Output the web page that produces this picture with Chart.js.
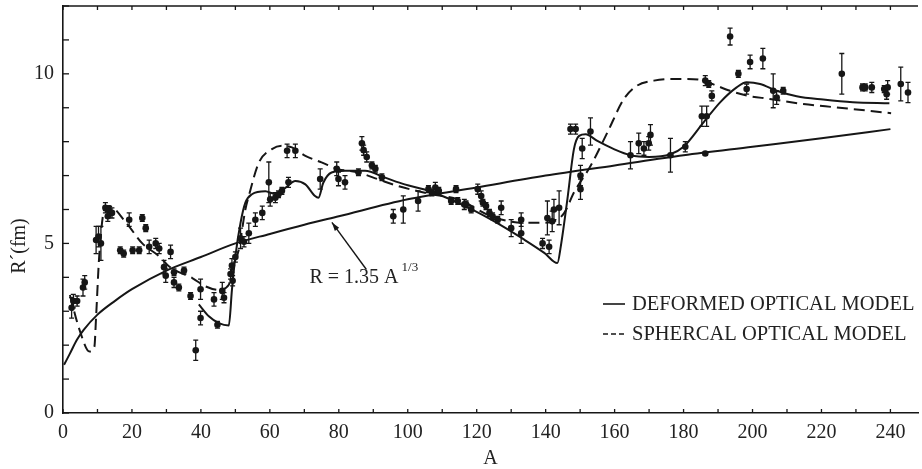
<!DOCTYPE html>
<html>
<head>
<meta charset="utf-8">
<script src="https://cdn.jsdelivr.net/npm/chart.js@4.4.1/dist/chart.umd.min.js"></script>
<style>
  html, body { margin: 0; padding: 0; background: #fff; }
</style>
</head>
<body>
<canvas id="myChart" width="922" height="469"></canvas>
<script>
// measured points (A, R', half error bar)
const pointA = [2.5, 3.0, 4.1, 5.8, 6.3, 9.6, 10.3, 11.0, 12.3, 13.2, 14.2, 13.0, 16.6, 17.6, 19.2, 20.2, 22.1, 23.0, 24.0, 25.0,
  26.9, 27.9, 29.3, 29.8, 31.2, 32.2, 32.2, 33.6, 35.1, 37.0, 39.9, 39.9, 38.5, 43.8, 44.8, 46.2, 46.7, 48.6, 49.0, 49.2,
  50.0, 51.5, 52.5, 53.9, 55.8, 57.8, 59.7, 60.1, 61.6, 62.5, 63.5, 65.4, 65.0, 67.4, 74.6, 79.4, 79.9, 81.8, 85.7, 86.7,
  87.2, 88.1, 89.6, 90.6, 92.5, 95.8, 98.7, 103.0, 106.0, 107.0, 108.0, 109.0, 112.6, 114.0, 114.5, 116.9, 116.4, 118.4, 120.3, 121.3,
  121.8, 122.7, 123.7, 124.6, 126.1, 127.1, 130.0, 132.9, 132.9, 139.1, 140.5, 141.0, 141.9, 142.4, 143.9, 147.2, 148.7, 153.0, 150.6, 150.1,
  150.1, 164.6, 167.0, 168.5, 170.4, 169.9, 176.2, 180.5, 186.3, 185.3, 186.7, 186.3, 187.3, 188.2, 193.5, 195.9, 198.3, 199.3, 203.0, 206.0,
  207.0, 208.9, 225.9, 231.9, 232.7, 234.6, 238.2, 239.2, 238.9, 243.0, 245.1];
const pointR = [3.1, 3.3, 3.3, 3.7, 3.85, 5.1, 5.2, 5.0, 6.05, 6.0, 5.9, 5.8, 4.8, 4.7, 5.7, 4.8, 4.8, 5.75, 5.45, 4.9,
  5.0, 4.85, 4.3, 4.05, 4.75, 4.15, 3.85, 3.7, 4.2, 3.45, 3.65, 2.8, 1.85, 3.35, 2.6, 3.6, 3.4, 4.1, 4.35, 3.9,
  4.6, 5.15, 5.05, 5.3, 5.7, 5.9, 6.8, 6.3, 6.35, 6.45, 6.55, 6.8, 7.73, 7.73, 6.9, 7.2, 6.9, 6.8, 7.1, 7.95,
  7.75, 7.55, 7.3, 7.2, 6.95, 5.8, 6.0, 6.25, 6.6, 6.5, 6.65, 6.55, 6.25, 6.6, 6.25, 6.15, 6.15, 6.0, 6.6, 6.4,
  6.2, 6.1, 5.9, 5.8, 5.7, 6.05, 5.45, 5.7, 5.3, 5.0, 5.75, 4.9, 5.65, 6.0, 6.05, 8.37, 8.37, 8.3, 7.8, 7.0,
  6.6, 7.6, 7.95, 7.8, 8.2, 7.95, 7.6, 7.85, 7.65, 8.75, 8.75, 9.8, 9.7, 9.35, 11.1, 10.0, 9.55, 10.35, 10.45, 9.5,
  9.3, 9.5, 10.0, 9.6, 9.6, 9.6, 9.55, 9.6, 9.4, 9.7, 9.45];
const pointErr = [0.3, 0.2, 0.15, 0.25, 0.2, 0.4, 0.3, 0.5, 0.15, 0.1, 0.15, 0.15, 0.1, 0.1, 0.2, 0.1, 0.1, 0.1, 0.1, 0.2,
  0.15, 0.15, 0.2, 0.2, 0.2, 0.1, 0.15, 0.1, 0.1, 0.1, 0.3, 0.2, 0.3, 0.2, 0.1, 0.25, 0.15, 0.15, 0.2, 0.15,
  0.15, 0.3, 0.15, 0.3, 0.2, 0.2, 0.6, 0.2, 0.15, 0.1, 0.1, 0.15, 0.2, 0.2, 0.3, 0.2, 0.2, 0.2, 0.1, 0.2,
  0.15, 0.15, 0.1, 0.1, 0.1, 0.2, 0.4, 0.3, 0.1, 0.1, 0.15, 0.1, 0.1, 0.1, 0.1, 0.1, 0.15, 0.1, 0.15, 0.15,
  0.1, 0.1, 0.1, 0.1, 0.1, 0.2, 0.25, 0.2, 0.3, 0.15, 0.5, 0.2, 0.3, 0.3, 0.5, 0.15, 0.15, 0.4, 0.3, 0.3,
  0.3, 0.4, 0.3, 0.2, 0.3, 0.2, 0.5, 0.15, 0.05, 0.3, 0.3, 0.15, 0.1, 0.15, 0.25, 0.1, 0.15, 0.2, 0.3, 0.5,
  0.2, 0.1, 0.6, 0.1, 0.1, 0.15, 0.1, 0.2, 0.15, 0.5, 0.3];

// deformed optical model (solid)
const deformA = [39.4, 42.3, 45.2, 48.1, 49.0, 50.0, 51.5, 52.9, 54.8, 58.7, 61.6, 64.5, 67.4, 70.3, 73.1, 74.1, 75.5, 77.9, 81.8, 87.6,
  93.4, 99.1, 104.9, 108.8, 114.5, 124.2, 133.8, 139.6, 143.4, 144.4, 146.3, 148.2, 149.7, 151.6, 155, 159.8, 164.6, 170, 176, 180,
  185.8, 190.6, 195.4, 198.3, 202.2, 207, 212.8, 220.5, 229.1, 239.7];
const deformR = [3.2, 2.85, 2.65, 2.58, 3.63, 4.62, 5.61, 6.2, 6.45, 6.54, 6.45, 6.64, 6.84, 6.74, 6.4, 6.35, 6.79, 7.09, 7.14, 7.14,
  6.94, 6.74, 6.59, 6.45, 6.2, 5.7, 5.11, 4.72, 4.42, 4.92, 6.3, 7.78, 8.17, 8.22, 8.02, 7.78, 7.6, 7.55, 7.62, 7.85,
  8.57, 9.16, 9.6, 9.75, 9.7, 9.5, 9.34, 9.24, 9.16, 9.13];

// spherical optical model (dashed)
const spherA = [2, 4.8, 7.7, 9.1, 9.6, 10.5, 12, 13.4, 18.3, 23, 27.9, 30.8, 37.5, 41.4, 45.2, 48.1, 49, 51, 52.9, 53.9,
  56.8, 60.6, 63.5, 66.4, 70.3, 75, 79.9, 85.7, 91.4, 97.2, 103, 106.8, 114.5, 124.2, 129, 133.8, 138.6, 142.5, 145.4, 148.2,
  153, 157.9, 162.7, 166.5, 171.4, 176.2, 181, 185.8, 189.6, 193.5, 198.3, 205, 214.7, 224.3, 233.9, 240.2];
const spherR = [3.48, 2.45, 1.81, 1.95, 2.84, 4.62, 6.0, 6.1, 5.61, 5.0, 4.62, 4.32, 3.98, 3.73, 3.63, 3.78, 4.22, 4.82, 6.0, 6.4,
  7.38, 7.78, 7.88, 7.83, 7.58, 7.39, 7.19, 7.09, 6.89, 6.69, 6.54, 6.45, 6.3, 5.8, 5.66, 5.61, 5.61, 5.66, 5.9, 6.5,
  7.28, 8.27, 9.26, 9.65, 9.8, 9.85, 9.85, 9.8, 9.65, 9.5, 9.36, 9.26, 9.11, 9.01, 8.91, 8.84];

// R = 1.35 A^(1/3) curve
const radiusA = [0.3, 2, 4, 6, 10, 15, 20, 30, 40, 50, 60, 70, 80, 100, 120, 140, 160, 180, 200, 220, 240];
const radiusR = [1.42, 1.75, 2.15, 2.45, 2.9, 3.3, 3.65, 4.2, 4.6, 5.0, 5.28, 5.55, 5.8, 6.3, 6.65, 7.0, 7.3, 7.6, 7.85, 8.1, 8.37];

const xTickStep = 10;
const xLabelStep = 20;
const yLabelStep = 5;
const legendLabels = ["DEFORMED OPTICAL MODEL", "SPHERCAL OPTICAL MODEL"];
const curveLabel = "R = 1.35 A";
const curveExp = "1/3";

const ink = "#161616";
const serif = "'Liberation Serif', 'DejaVu Serif', serif";

function pairs(xs, ys) {
  return xs.map((x, i) => ({ x: x, y: ys[i] }));
}

const lineStyle = {
  showLine: true,
  pointRadius: 0,
  borderColor: ink,
  borderWidth: 2,
  cubicInterpolationMode: "monotone",
  fill: false,
};

// error bars, axis ticks, legend and labels
const decor = {
  id: "decor",
  beforeDatasetsDraw(chart) {
    const x = chart.scales.x, y = chart.scales.y, ctx = chart.ctx;
    ctx.save();
    ctx.strokeStyle = ink;
    ctx.lineWidth = 1.3;
    pointA.forEach((a, i) => {
      const px = x.getPixelForValue(a);
      const top = y.getPixelForValue(pointR[i] + pointErr[i]);
      const bot = y.getPixelForValue(pointR[i] - pointErr[i]);
      ctx.beginPath();
      ctx.moveTo(px, top); ctx.lineTo(px, bot);
      ctx.moveTo(px - 2.5, top); ctx.lineTo(px + 2.5, top);
      ctx.moveTo(px - 2.5, bot); ctx.lineTo(px + 2.5, bot);
      ctx.stroke();
    });
    ctx.restore();
  },
  afterDraw(chart) {
    const x = chart.scales.x, y = chart.scales.y, ctx = chart.ctx;
    const area = chart.chartArea;
    ctx.save();
    ctx.strokeStyle = ink;
    ctx.lineWidth = 1.6;
    // top frame line
    ctx.beginPath();
    ctx.moveTo(area.left, area.top); ctx.lineTo(area.right, area.top);
    ctx.stroke();
    // inward ticks
    ctx.lineWidth = 1.3;
    x.ticks.forEach(t => {
      const px = x.getPixelForValue(t.value);
      ctx.beginPath();
      ctx.moveTo(px, area.bottom); ctx.lineTo(px, area.bottom - 4);
      ctx.moveTo(px, area.top); ctx.lineTo(px, area.top + 4);
      ctx.stroke();
    });
    y.ticks.forEach(t => {
      const py = y.getPixelForValue(t.value);
      ctx.beginPath();
      ctx.moveTo(area.left, py); ctx.lineTo(area.left + 6, py);
      ctx.stroke();
    });

    // arrow to the radius curve
    const tx = x.getPixelForValue(88), ty = y.getPixelForValue(4.23);
    const hx = x.getPixelForValue(78), hy = y.getPixelForValue(5.62);
    ctx.lineWidth = 1.4;
    ctx.beginPath();
    ctx.moveTo(tx, ty); ctx.lineTo(hx, hy);
    ctx.stroke();
    const ang = Math.atan2(hy - ty, hx - tx);
    ctx.fillStyle = ink;
    ctx.beginPath();
    ctx.moveTo(hx, hy);
    ctx.lineTo(hx - 9 * Math.cos(ang - 0.3), hy - 9 * Math.sin(ang - 0.3));
    ctx.lineTo(hx - 9 * Math.cos(ang + 0.3), hy - 9 * Math.sin(ang + 0.3));
    ctx.closePath();
    ctx.fill();

    // curve formula label
    ctx.fillStyle = "#222";
    ctx.textBaseline = "middle";
    ctx.textAlign = "left";
    ctx.font = "20px " + serif;
    const lx = x.getPixelForValue(71.5), ly = y.getPixelForValue(3.98);
    ctx.fillText(curveLabel, lx, ly);
    const w = ctx.measureText(curveLabel).width;
    ctx.font = "13px " + serif;
    ctx.fillText(curveExp, lx + w + 3, ly - 10);

    // legend
    ctx.font = "20.5px " + serif;
    ctx.lineWidth = 1.6;
    ctx.beginPath();
    ctx.moveTo(603, 304); ctx.lineTo(625, 304);
    ctx.stroke();
    ctx.setLineDash([5, 3]);
    ctx.beginPath();
    ctx.moveTo(603, 334); ctx.lineTo(625, 334);
    ctx.stroke();
    ctx.setLineDash([]);
    ctx.fillText(legendLabels[0], 632, 305);
    ctx.fillText(legendLabels[1], 632, 335);

    // y title
    ctx.font = "20px " + serif;
    ctx.translate(20, 246);
    ctx.rotate(-Math.PI / 2);
    ctx.textAlign = "center";
    ctx.fillText("R\u00B4(fm)", 0, 0);
    ctx.restore();
  }
};

new Chart(document.getElementById("myChart"), {
  type: "scatter",
  data: {
    datasets: [
      {
        label: "data",
        data: pairs(pointA, pointR),
        pointRadius: 3.3,
        pointBackgroundColor: ink,
        pointBorderWidth: 0,
      },
      Object.assign({ label: legendLabels[0], data: pairs(deformA, deformR) }, lineStyle),
      Object.assign({ label: legendLabels[1], data: pairs(spherA, spherR), borderDash: [11, 6] }, lineStyle),
      Object.assign({ label: curveLabel, data: pairs(radiusA, radiusR) }, lineStyle),
    ],
  },
  options: {
    responsive: false,
    animation: false,
    layout: { padding: { top: 6, right: 0, left: 0, bottom: 0 } },
    plugins: {
      legend: { display: false },
      tooltip: { enabled: false },
    },
    scales: {
      x: {
        type: "linear",
        min: 0,
        max: 248,
        afterFit(scale) { scale.height = 56; },
        grid: { display: true, drawOnChartArea: false, drawTicks: false },
        border: { display: true, color: ink, width: 1.6 },
        ticks: {
          stepSize: xTickStep,
          includeBounds: false,
          autoSkip: false,
          maxRotation: 0,
          padding: 8,
          color: "#222",
          font: { family: serif, size: 20 },
          callback: (v) => (v % xLabelStep === 0 ? v : ""),
        },
        title: {
          display: true,
          text: "A",
          color: "#222",
          font: { family: serif, size: 20, lineHeight: 1 },
          padding: { top: 0, bottom: 0 },
        },
      },
      y: {
        type: "linear",
        min: 0,
        max: 12,
        afterFit(scale) {
          scale.width = 63;
          scale.paddingTop = 0;
          scale.paddingBottom = 0;
        },
        grid: { display: true, drawOnChartArea: false, drawTicks: false },
        border: { display: true, color: ink, width: 1.6 },
        ticks: {
          stepSize: 1,
          autoSkip: false,
          padding: 9,
          color: "#222",
          font: { family: serif, size: 20 },
          callback: (v) => (v % yLabelStep === 0 ? v : ""),
        },
      },
    },
  },
  plugins: [decor],
});
</script>
</body>
</html>
